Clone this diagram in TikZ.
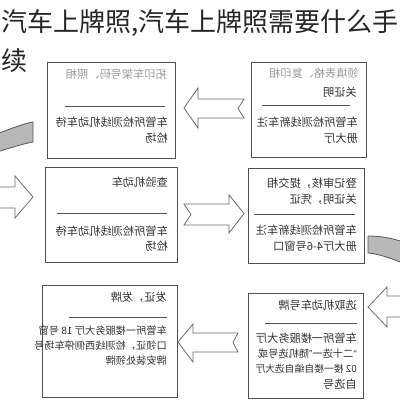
\documentclass[tikz,border=0pt]{standalone}
\usepackage{fontspec}
\usepackage{graphicx}
\newfontfamily\cjk{Noto Sans CJK SC}
\newfontfamily\latinq{Liberation Sans}
\definecolor{boxc}{HTML}{505050}
\definecolor{textc}{HTML}{333333}
\definecolor{graytext}{HTML}{9A9A9A}
\definecolor{arrowc}{HTML}{6A6A6A}
\definecolor{bandfill}{HTML}{B8B8B8}
\definecolor{bandline}{HTML}{555555}
\definecolor{titlec}{HTML}{262626}
\tikzset{
  box/.style={draw=boxc, line width=0.8pt, fill=white, inner sep=0pt},
  txt/.style={anchor=base east, inner sep=0pt, text=textc, font=\cjk\fontsize{11.2}{13}\selectfont},
  smalltxt/.style={txt, font=\cjk\fontsize{10.2}{12}\selectfont},
  gtxt/.style={txt, text=graytext},
  sepline/.style={draw=boxc, line width=0.9pt},
  blockarrow/.style={draw=arrowc, line width=0.8pt, fill=white, line join=miter},
  band/.style={draw=bandline, fill=bandfill, line width=0.8pt},
  title/.style={anchor=base west, inner sep=0pt, text=titlec, font=\cjk\fontsize{26}{30}\selectfont},
}
\newcommand{\mir}[1]{\reflectbox{#1}}
\begin{document}
\begin{tikzpicture}[x=1pt,y=-1pt]
\useasboundingbox (0,0) rectangle (400,400);
\fill[white] (0,0) rectangle (400,400);
\begin{scope}
\clip (0,0) rectangle (400,400);

% side bands
\draw[band] (-3,134) .. controls (10,129) and (22,124) .. (33,122) -- (33,142) .. controls (22,144) and (10,148) .. (-3,152) -- cycle;
\draw[band] (368,236) .. controls (380,236) and (392,238) .. (403,242) -- (403,263) .. controls (392,259) and (380,254) .. (368,253) -- cycle;

% boxes
\node[box, minimum width=128pt, minimum height=96pt] (b1) at (111,110) {};
\node[box, minimum width=115pt, minimum height=95pt] (b2) at (308.5,109.5) {};
\node[box, minimum width=132pt, minimum height=95pt] (b3) at (111,214.5) {};
\node[box, minimum width=116pt, minimum height=95pt] (b4) at (306,215.5) {};
\node[box, minimum width=135pt, minimum height=112pt] (b5) at (109.5,341) {};
\node[box, minimum width=115pt, minimum height=105pt] (b6) at (305.5,345.5) {};

% block arrows
\draw[blockarrow] (184,108) -- (198,88) -- (198,99) -- (244,99) -- (238,108.5) -- (244,118) -- (198,118) -- (198,128) -- cycle;
\draw[blockarrow] (184,204) -- (229,204) -- (229,195) -- (244,213.5) -- (229,233) -- (229,225) -- (184,225) -- (191,214.5) -- cycle;
\draw[blockarrow] (178,342) -- (193,324) -- (193,333) -- (238,333) -- (233,342.5) -- (238,352) -- (193,352) -- (193,362) -- cycle;
\draw[blockarrow] (368,307) -- (387,287) -- (387,296) -- (405,296) -- (405,317) -- (387,317) -- (387,327) -- cycle;
\draw[blockarrow] (-5,187) -- (15,187) -- (15,176) -- (33,197) -- (15,218) -- (15,208) -- (-5,208) -- cycle;

% box 1
\node[gtxt] (t11) at (167,78) {\mir{拓印车架号码、照相}};
\draw[sepline] (65,106) -- (165,106);
\node[txt] (t12) at (168,126) {\mir{车管所检测线机动车待}};
\node[txt] (t13) at (168,142) {\mir{检场}};

% box 2
\node[gtxt] (t21) at (359,77) {\mir{领填表格、复印相}};
\node[txt] (t22) at (357,96) {\mir{关证明}};
\draw[sepline] (262,105) -- (350,105);
\node[txt] (t23) at (358,126) {\mir{车管所检测线新车注}};
\node[txt] (t24) at (358,142) {\mir{册大厅}};

% box 3
\node[txt] (t31) at (168,186) {\mir{查验机动车}};
\draw[sepline] (57,213) -- (167,213);
\node[txt] (t32) at (168,235) {\mir{车管所检测线机动车待}};
\node[txt] (t33) at (168,250) {\mir{检场}};

% box 4
\node[txt] (t41) at (357,187) {\mir{登记审核，提交相}};
\node[txt] (t42) at (357,203) {\mir{关证明，凭证}};
\draw[sepline] (254,214) -- (355,214);
\node[txt] (t43) at (357,234) {\mir{车管所检测线新车注}};
\node[txt] (t44) at (357,250) {\mir{册大厅4-6号窗口}};

% box 5
\node[txt] (t51) at (167,301) {\mir{发证，发牌}};
\draw[sepline] (69,317) -- (167,317);
\node[smalltxt] (t52) at (167,334) {\mir{车管所一楼服务大厅 18 号窗}};
\node[smalltxt] (t53) at (167,349) {\mir{口领证，检测线西侧停车场号}};
\node[smalltxt] (t54) at (167,364) {\mir{牌安装处领牌}};

% box 6
\node[txt] (t61) at (357,309) {\mir{选取机动车号牌}};
\draw[sepline] (265,323) -- (357,323);
\node[txt] (t62) at (357,342) {\mir{车管所一楼服务大厅}};
\node[smalltxt] (t63) at (357,357) {\mir{{\latinq “}二十选一{\latinq ”}随机选号或}};
\node[smalltxt, font=\cjk\fontsize{9.8}{12}\selectfont] (t64) at (357,372) {\mir{02 楼一楼自编自选大厅}};
\node[txt] (t65) at (357,388) {\mir{自选号}};

% title
\node[title] (ttl1) at (1,31) {汽车上牌照,汽车上牌照需要什么手};
\node[title] (ttl2) at (1,70) {续};
\end{scope}
\end{tikzpicture}
\end{document}
